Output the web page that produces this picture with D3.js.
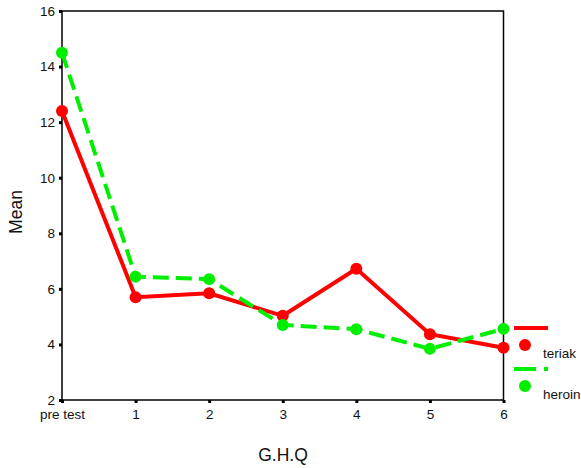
<!DOCTYPE html>
<html><head><meta charset="utf-8">
<script src="https://cdn.jsdelivr.net/npm/d3@7"></script>
<style>body{margin:0;background:#fff;}svg{display:block;font-family:"Liberation Sans",Arial,sans-serif;}</style>
</head><body>
<svg id="c" width="581" height="468"></svg>
<script>
const categories = ["pre test","1","2","3","4","5","6"];
const teriak = [12.4, 5.70, 5.84, 5.03, 6.72, 4.37, 3.88];
const heroin = [14.5, 6.44, 6.35, 4.70, 4.55, 3.84, 4.56];
const yTicks = [2,4,6,8,10,12,14,16];
const seriesNames = ["teriak","heroin"];
const colors = ["#ff0000","#00ee00"];

const svg = d3.select("#c");
const L = 62, R = 503.5, T = 11, B = 400;
const x = d3.scalePoint().domain(categories).range([L, R]);
const y = d3.scaleLinear().domain([2,16]).range([B, T]);

svg.append("rect").attr("x",L).attr("y",T).attr("width",R-L).attr("height",B-T)
  .attr("fill","none").attr("stroke","#000").attr("stroke-width",1.5);

const yAxis = svg.append("g").attr("transform",`translate(${L},0)`)
  .call(d3.axisLeft(y).tickValues(yTicks).tickSize(3).tickPadding(4));
const xAxis = svg.append("g").attr("transform",`translate(0,${B})`)
  .call(d3.axisBottom(x).tickSize(3).tickPadding(6));
[yAxis,xAxis].forEach(a=>{
  a.attr("font-size",13.5).attr("font-family","'Liberation Sans',Arial,sans-serif");
  a.select(".domain").remove();
  a.selectAll(".tick line").attr("stroke","#000").attr("stroke-width",3);
  a.selectAll("text").attr("fill","#111");
});

svg.append("text").attr("x",283).attr("y",461).attr("text-anchor","middle")
  .attr("fill","#111").style("font-size","17.5px").text("G.H.Q");
svg.append("text").attr("transform","translate(22,212) rotate(-90)").attr("text-anchor","middle")
  .attr("fill","#111").style("font-size","17.5px").text("Mean");

const line = d3.line().x((d,i)=>x(categories[i])).y(d=>y(d));
const data = [teriak, heroin];
data.forEach((vals,k)=>{
  svg.append("path").datum(vals).attr("d",line).attr("fill","none")
    .attr("stroke",colors[k]).attr("stroke-width",4)
    .attr("stroke-dasharray",k===1?"16,7":null);
});
data.forEach((vals,k)=>{
  svg.selectAll(null).data(vals).enter().append("circle")
    .attr("cx",(d,i)=>x(categories[i])).attr("cy",d=>y(d)).attr("r",6)
    .attr("fill",colors[k]);
});

seriesNames.forEach((n,k)=>{
  const oy = 328 + k*41;
  svg.append("line").attr("x1",514).attr("x2",548).attr("y1",oy).attr("y2",oy)
    .attr("stroke",colors[k]).attr("stroke-width",4)
    .attr("stroke-dasharray",k===1?"22,8":null);
  svg.append("circle").attr("cx",525).attr("cy",oy+17).attr("r",6).attr("fill",colors[k]);
  svg.append("text").attr("x",543).attr("y",oy+30).attr("fill","#111").style("font-size","13.5px").text(n);
});
</script>
</body></html>
